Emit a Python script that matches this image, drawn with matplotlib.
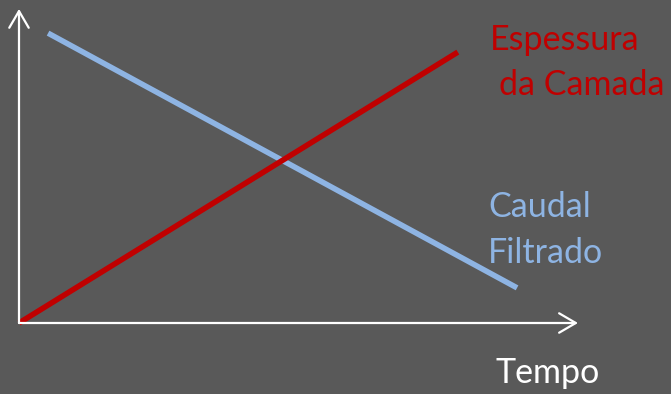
import matplotlib
matplotlib.use("Agg")
import matplotlib.pyplot as plt

# Data (fractions of axis length)
tempo = [0.0, 0.785]
espessura = [0.0, 0.871]
tempo_caudal = [0.052, 0.891]
caudal = [0.932, 0.113]

BG = "#595959"
RED = "#C00000"
BLUE = "#8EB4E3"
FONT = ["Lato", "DejaVu Sans"]

W, H = 671, 394
fig = plt.figure(figsize=(W / 100, H / 100), dpi=100, facecolor=BG)
x0, y0, x1, y1 = 19, 323, 578, 12
ax = fig.add_axes([x0 / W, 1 - y0 / H, (x1 - x0) / W, (y0 - y1) / H])
ax.set_facecolor(BG)
ax.set_xlim(0, 1)
ax.set_ylim(0, 1)
ax.axis("off")

# axes arrows
arrow = dict(arrowstyle="->,head_length=0.6,head_width=0.35", color="white",
             lw=1.6, mutation_scale=20, shrinkA=0, shrinkB=0)
ax.annotate("", xy=(1.0, 0), xytext=(0, 0), xycoords="axes fraction",
            arrowprops=arrow, annotation_clip=False)
ax.annotate("", xy=(0, 1.01), xytext=(0, 0), xycoords="axes fraction",
            arrowprops=arrow, annotation_clip=False)

ax.plot(tempo_caudal, caudal, color=BLUE, lw=4, solid_capstyle="butt", clip_on=False)
ax.plot(tempo, espessura, color=RED, lw=4, solid_capstyle="butt", clip_on=False)

def ftext(px, py, s, color):
    fig.text(px / W, 1 - py / H, s, color=color, fontsize=24.5, family=FONT,
             ha="left", va="baseline")

ftext(490, 50, "Espessura", RED)
ftext(499, 95, "da Camada", RED)
ftext(488, 217, "Caudal", BLUE)
ftext(488, 263, "Filtrado", BLUE)
ftext(495, 383, "Tempo", "white")

fig.savefig("out.png", dpi=100, facecolor=BG)
